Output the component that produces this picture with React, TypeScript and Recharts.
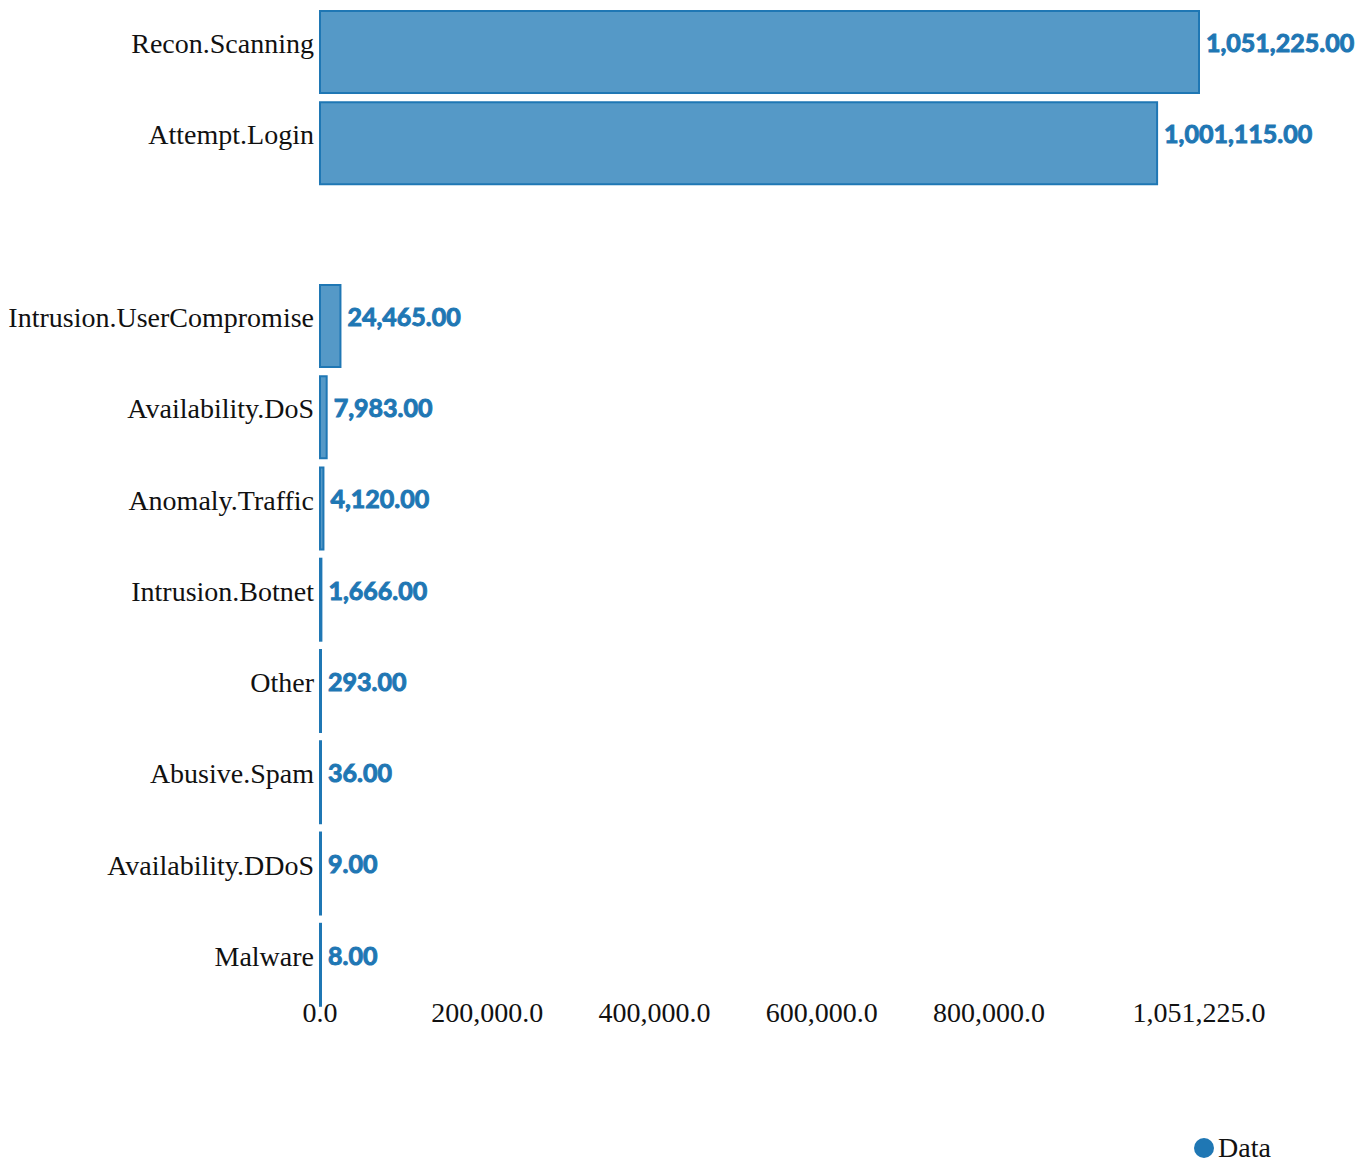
import { Bar, BarChart, XAxis, YAxis, Legend, LabelList } from "recharts"

// categories in display order, the blank one is the empty row in the middle
const categories = [
  "Recon.Scanning",
  "Attempt.Login",
  "",
  "Intrusion.UserCompromise",
  "Availability.DoS",
  "Anomaly.Traffic",
  "Intrusion.Botnet",
  "Other",
  "Abusive.Spam",
  "Availability.DDoS",
  "Malware",
]
const counts: (number | null)[] = [1051225, 1001115, null, 24465, 7983, 4120, 1666, 293, 36, 9, 8]
const xTicks = [0, 200000, 400000, 600000, 800000, 1051225]

const BLUE = "#1f77b4"

const fmt2 = (v: any) =>
  v == null ? "" : Number(v).toLocaleString("en-US", { minimumFractionDigits: 2, maximumFractionDigits: 2 })
const fmt1 = (v: number) =>
  v.toLocaleString("en-US", { minimumFractionDigits: 1, maximumFractionDigits: 1 })

function XTick({ x, y, payload }: any) {
  return (
    <text x={x} y={y + 11} textAnchor="middle" fontFamily="Liberation Serif" fontSize={28} fill="#111">
      {fmt1(payload.value)}
    </text>
  )
}

function YTick({ x, y, payload }: any) {
  return (
    <text x={x} y={y + 1} textAnchor="end" fontFamily="Liberation Serif" fontSize={28} fill="#111">
      {payload.value}
    </text>
  )
}

function LegendBox() {
  return (
    <svg width={90} height={30}>
      <circle cx={14} cy={15} r={10} fill={BLUE} />
      <text x={28} y={24} fontFamily="Liberation Serif" fontSize={28} fill="#111">
        Data
      </text>
    </svg>
  )
}

export default function App() {
  const chartData = categories.map((name, i) => ({ name, value: counts[i] }))

  return (
    <div style={{ position: "absolute", left: 0, top: 0 }}>
      <BarChart
        width={1357}
        height={1161}
        data={chartData}
        layout="vertical"
        margin={{ top: 6.5, right: 158, left: 0, bottom: 10.5 }}
        barCategoryGap="5%"
      >
        <XAxis
          type="number"
          domain={[0, 1051225]}
          ticks={xTicks}
          axisLine={false}
          tickLine={false}
          tickSize={0}
          tickMargin={0}
          height={110}
          interval={0}
          tick={<XTick />}
        />
        <YAxis
          type="category"
          dataKey="name"
          width={320}
          axisLine={false}
          tickLine={false}
          tickSize={0}
          tickMargin={6}
          interval={0}
          tick={<YTick />}
        />
        <Legend
          verticalAlign="bottom"
          content={<LegendBox />}
          wrapperStyle={{ left: 1190, top: 1133, bottom: "auto", width: 90, height: 30 }}
        />
        <Bar
          dataKey="value"
          name="Data"
          fill="#5599c7"
          stroke={BLUE}
          strokeWidth={2}
          minPointSize={(v: any) => (v == null ? 0 : 1)}
          isAnimationActive={false}
        >
          <LabelList
            dataKey="value"
            position="right"
            offset={7}
            formatter={fmt2}
            dy={-9}
            style={{ fontFamily: "Lato", fontWeight: 700, fontSize: 25, fill: BLUE, stroke: BLUE, strokeWidth: 1 }}
          />
        </Bar>
      </BarChart>
    </div>
  )
}
